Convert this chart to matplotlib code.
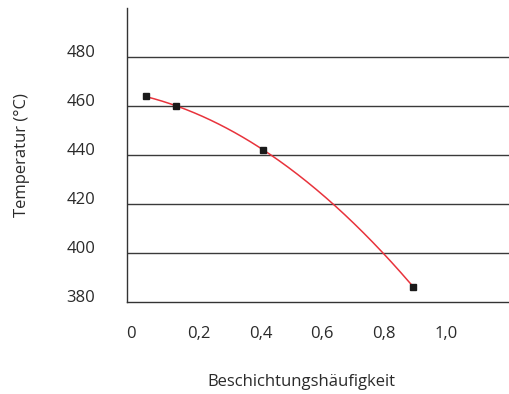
import matplotlib
matplotlib.use("Agg")
import matplotlib.pyplot as plt
import matplotlib.transforms as mtransforms
import numpy as np

plt.rcParams['font.family'] = ['Open Sans', 'DejaVu Sans']

x_vals = [0.03, 0.126, 0.41, 0.894]
y_vals = [463.8, 459.8, 442.0, 386.3]
x_ticks = [0, 0.2, 0.4, 0.6, 0.8, 1.0]
x_tick_labels = ["0", "0,2", "0,4", "0,6", "0,8", "1,0"]
y_ticks = [380, 400, 420, 440, 460, 480]
y_tick_labels = ["380", "400", "420", "440", "460", "480"]

fig = plt.figure(figsize=(5.09, 3.94), dpi=100)
ax = fig.add_axes([127/509, 1-302/394, 1-127/509, (302-8)/394])

# trend line (quadratic fit of the data)
coef = np.polyfit(x_vals, y_vals, 2)
xs = np.linspace(min(x_vals), max(x_vals), 200)
ax.plot(xs, np.polyval(coef, xs), color='#e8333c', lw=1.1, zorder=3)
ax.plot(x_vals, y_vals, 's', color='#1a1a1a', ms=5, zorder=4)

ax.set_xlim(-0.032, 1.205)
ax.set_ylim(380.8, 499.8)

for v in y_ticks[1:]:
    ax.axhline(v, color='#3a3a3a', lw=1.0, zorder=1)

for s in ['top', 'right']:
    ax.spines[s].set_visible(False)
for s in ['left', 'bottom']:
    ax.spines[s].set_color('#333333')
    ax.spines[s].set_linewidth(1.0)

fs = 12
ax.set_xticks(x_ticks)
ax.set_xticklabels(x_tick_labels, fontsize=fs, color='#2a2a2a')
ax.set_yticks(y_ticks)
ax.set_yticklabels(y_tick_labels, fontsize=fs, color='#2a2a2a')
ax.tick_params(axis='both', length=0)
ax.tick_params(axis='x', pad=17)
ax.tick_params(axis='y', pad=23)

off_y = mtransforms.ScaledTranslation(0, 6/100, fig.dpi_scale_trans)
for lab in ax.get_yticklabels():
    lab.set_transform(lab.get_transform() + off_y)
labs = ax.get_xticklabels()
labs[0].set_transform(labs[0].get_transform() + mtransforms.ScaledTranslation(-6/100, 0, fig.dpi_scale_trans))

fig.text(301/509, 1-382/394, "Beschichtungshäufigkeit", ha='center', va='center', fontsize=fs, color='#2a2a2a')
fig.text(22/509, 1-155/394, "Temperatur (°C)", ha='center', va='center', rotation=90, fontsize=fs, color='#2a2a2a')

fig.savefig("out.png", dpi=100)
